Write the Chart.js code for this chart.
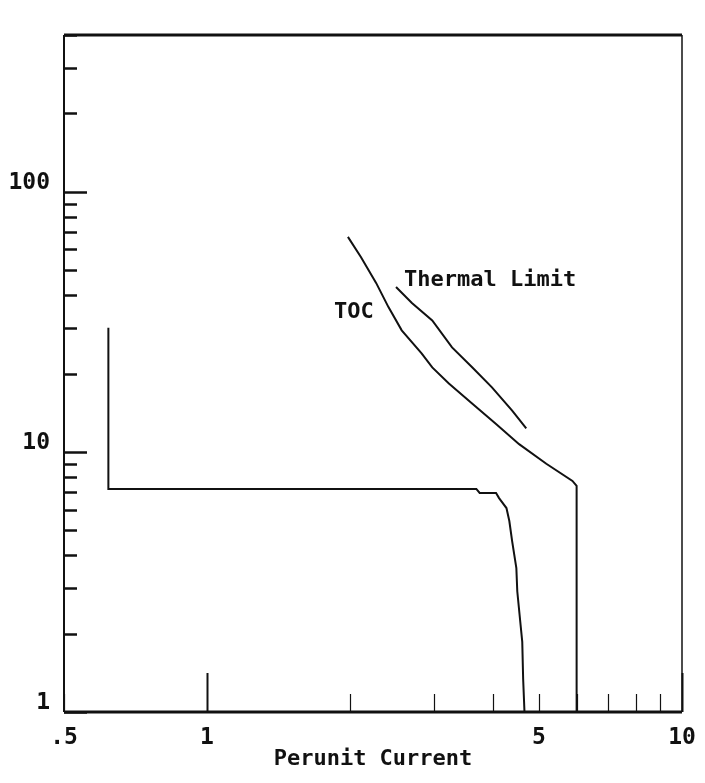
<!DOCTYPE html>
<html>
<head>
<meta charset="utf-8">
<script src="https://cdn.jsdelivr.net/npm/chart.js@4"></script>
<style>
  body { margin: 0; background: #fff; }
  #wrap { width: 705px; height: 783px; position: relative; }
</style>
</head>
<body>
<div id="wrap"><canvas id="myChart"></canvas></div>
<script>
// curve (perunit current, time)
const stepX = [0.62, 0.62, 3.69, 3.75, 4.06, 4.12, 4.27, 4.33, 4.39, 4.48, 4.50, 4.55, 4.61, 4.63, 4.66];
const stepY = [30, 7.2, 7.2, 6.95, 6.95, 6.64, 6.08, 5.42, 4.53, 3.57, 2.91, 2.37, 1.86, 1.34, 1];

const tocX = [1.98, 2.11, 2.27, 2.41, 2.57, 2.83, 2.98, 3.23, 3.62, 4.06, 4.54, 5.18, 5.88, 6.0, 6.0];
const tocY = [67, 56, 44.6, 36, 29.3, 23.9, 21.1, 18.3, 15.3, 12.8, 10.7, 9.0, 7.73, 7.4, 1];

const thermalX = [2.50, 2.70, 2.98, 3.28, 3.62, 3.98, 4.39, 4.70];
const thermalY = [43, 37.3, 32, 25.2, 21.1, 17.7, 14.4, 12.3];

// axis ticks
const xTicks = [0.5, 1, 2, 3, 4, 5, 6, 7, 8, 9, 10];
const xMajor = [1, 10];
const xLabels = { 0.5: ".5", 1: "1", 5: "5", 10: "10" };

const yTicks = [1, 2, 3, 4, 5, 6, 7, 8, 9, 10, 20, 30, 40, 50, 60, 70, 80, 90, 100, 200, 300, 400];
const yMajor = [1, 10, 100];
const yLabels = { 1: "1", 10: "10", 100: "100" };

// curve labels, placed at data coords
const noteText = ["Thermal Limit", "TOC"];
const noteX = [2.60, 1.85];
const noteY = [45.7, 34.4];

const ink = "#111";
const monoFont = "'DejaVu Sans Mono', monospace";

function pts(xs, ys) {
  return xs.map((x, i) => ({ x: x, y: ys[i] }));
}

const frameAndTicks = {
  id: "frameAndTicks",
  afterDatasetsDraw(chart) {
    const ctx = chart.ctx;
    const a = chart.chartArea;
    const xs = chart.scales.x;
    const ys = chart.scales.y;
    ctx.save();
    ctx.strokeStyle = ink;
    ctx.lineCap = "butt";

    // inward tick marks
    xTicks.forEach((v) => {
      const px = Math.round(xs.getPixelForValue(v)) + 0.5;
      const len = xMajor.includes(v) ? 39 : 18;
      ctx.lineWidth = xMajor.includes(v) ? 2 : 1.2;
      ctx.beginPath();
      ctx.moveTo(px, a.bottom);
      ctx.lineTo(px, a.bottom - len);
      ctx.stroke();
    });
    yTicks.forEach((v) => {
      const py = Math.round(ys.getPixelForValue(v)) + 0.5;
      const len = yMajor.includes(v) ? 23 : 13;
      ctx.lineWidth = 2.5;
      ctx.beginPath();
      ctx.moveTo(a.left, py);
      ctx.lineTo(a.left + len, py);
      ctx.stroke();
    });

    // frame
    ctx.lineWidth = 3;
    ctx.beginPath();
    ctx.moveTo(a.left, a.top);
    ctx.lineTo(a.right, a.top);
    ctx.moveTo(a.left, a.bottom);
    ctx.lineTo(a.right, a.bottom);
    ctx.stroke();
    ctx.lineWidth = 2;
    ctx.beginPath();
    ctx.moveTo(a.left, a.top);
    ctx.lineTo(a.left, a.bottom);
    ctx.stroke();
    ctx.lineWidth = 1.5;
    ctx.beginPath();
    ctx.moveTo(a.right, a.top);
    ctx.lineTo(a.right, a.bottom);
    ctx.stroke();

    // curve names
    ctx.fillStyle = ink;
    ctx.font = "bold 22px " + monoFont;
    ctx.textBaseline = "middle";
    ctx.textAlign = "left";
    noteText.forEach((t, i) => {
      ctx.fillText(t, xs.getPixelForValue(noteX[i]), ys.getPixelForValue(noteY[i]));
    });
    ctx.restore();
  }
};

const lineStyle = {
  showLine: true,
  borderColor: ink,
  borderWidth: 2,
  pointRadius: 0,
  tension: 0,
  fill: false
};

new Chart(document.getElementById("myChart"), {
  type: "scatter",
  data: {
    datasets: [
      Object.assign({ label: "Relay", data: pts(stepX, stepY) }, lineStyle),
      Object.assign({ label: "TOC", data: pts(tocX, tocY) }, lineStyle),
      Object.assign({ label: "Thermal Limit", data: pts(thermalX, thermalY) }, lineStyle)
    ]
  },
  options: {
    responsive: true,
    maintainAspectRatio: false,
    animation: false,
    layout: { padding: { top: 35, right: 23, left: 0, bottom: 0 } },
    plugins: { legend: { display: false }, tooltip: { enabled: false } },
    scales: {
      x: {
        type: "logarithmic",
        min: 0.5,
        max: 10,
        afterBuildTicks: (scale) => { scale.ticks = xTicks.map((v) => ({ value: v })); },
        afterFit: (scale) => {
          scale.height = 71;
          scale.paddingLeft = 0;
          scale.paddingRight = 0;
        },
        grid: { display: false, drawTicks: false },
        border: { display: false },
        ticks: {
          autoSkip: false,
          maxRotation: 0,
          padding: 12,
          color: ink,
          font: { family: monoFont, size: 23, weight: "bold" },
          callback: (v) => xLabels[v] || ""
        },
        title: {
          display: true,
          text: "Perunit Current",
          color: ink,
          font: { family: monoFont, size: 22, weight: "bold" },
          padding: { top: 0, bottom: 11 }
        }
      },
      y: {
        type: "logarithmic",
        min: 1,
        max: 400,
        afterBuildTicks: (scale) => { scale.ticks = yTicks.map((v) => ({ value: v })); },
        afterFit: (scale) => { scale.width = 64; },
        grid: { display: false, drawTicks: false },
        border: { display: false },
        ticks: {
          autoSkip: false,
          padding: 14,
          labelOffset: -9,
          color: ink,
          font: { family: monoFont, size: 23, weight: "bold" },
          callback: (v) => yLabels[v] || ""
        }
      }
    }
  },
  plugins: [frameAndTicks]
});
</script>
</body>
</html>
